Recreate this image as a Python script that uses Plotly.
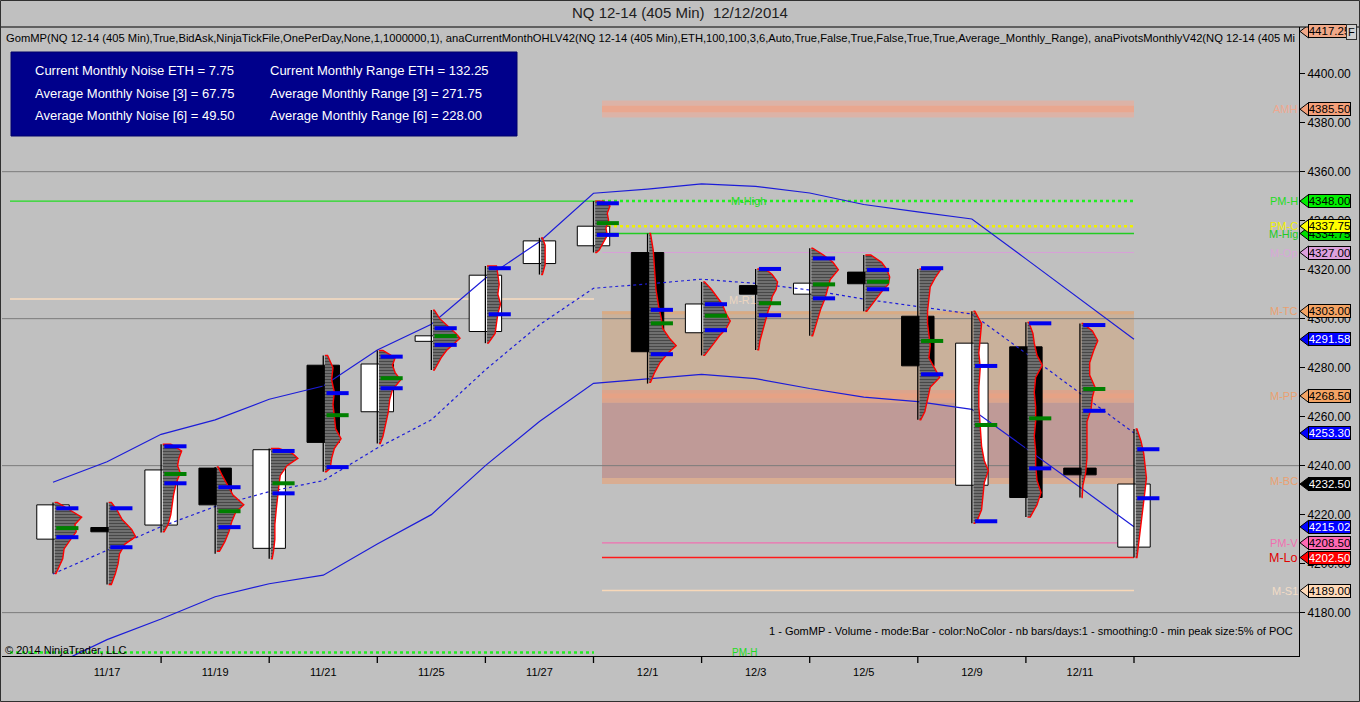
import plotly.graph_objects as go

# ---------------- data ----------------
dates = ["11/14", "11/17", "11/18", "11/19", "11/20", "11/21", "11/24", "11/25", "11/26", "11/27", "11/28",
         "12/1", "12/2", "12/3", "12/4", "12/5", "12/8", "12/9", "12/10", "12/11", "12/12"]
opens = [4210.0, 4214.75, 4215.75, 4239.0, 4206.25, 4281.0, 4262.0, 4290.75, 4294.75, 4322.5, 4329.75,
         4327.0, 4294.25, 4313.5, 4310.0, 4319.0, 4301.0, 4232.0, 4288.5, 4239.0, 4206.75]
highs = [4225.0, 4225.0, 4248.75, 4239.5, 4247.0, 4285.0, 4287.0, 4303.5, 4321.5, 4333.0, 4348.0,
         4334.75, 4315.0, 4320.25, 4328.75, 4326.0, 4320.25, 4303.0, 4298.5, 4298.0, 4255.0]
lows = [4196.0, 4191.5, 4212.75, 4204.0, 4202.0, 4237.5, 4249.0, 4279.0, 4290.0, 4318.0, 4327.0,
        4273.5, 4285.0, 4287.25, 4293.0, 4303.0, 4258.75, 4216.5, 4219.0, 4227.0, 4202.5]
closes = [4224.0, 4213.0, 4238.25, 4224.0, 4246.5, 4249.5, 4281.5, 4293.0, 4317.75, 4331.75, 4337.75,
          4286.5, 4306.0, 4310.0, 4314.5, 4314.25, 4280.75, 4290.0, 4227.0, 4236.25, 4232.5]

upper_band = [4233.2, 4241.6, 4252.8, 4258.7, 4267.1, 4272.5, 4287.2, 4297.7, 4316.5, 4331.4, 4351.2,
              4352.9, 4355.0, 4354.0, 4351.3, 4346.6, 4343.6, 4340.7, 4324.4, 4308.0, 4291.58]
mid_band = [4195.8, 4205.3, 4215.1, 4223.3, 4229.4, 4233.9, 4247.2, 4258.7, 4279.1, 4297.5, 4312.4,
            4314.2, 4316.1, 4314.4, 4311.7, 4308.0, 4304.9, 4301.9, 4285.9, 4269.6, 4253.30]
lower_band = [4158.4, 4169.0, 4177.4, 4186.5, 4191.8, 4195.3, 4208.0, 4220.0, 4240.0, 4258.0, 4273.6,
              4275.5, 4277.3, 4275.5, 4271.5, 4268.0, 4266.1, 4263.0, 4247.2, 4231.2, 4215.02]

# volume profile nodes per bar (price, relative volume)
profile_prices = [
    [4225, 4222, 4219, 4216, 4213, 4210, 4206, 4202, 4198, 4196],
    [4225, 4222, 4218, 4214, 4211, 4208, 4204, 4200, 4196, 4191.5],
    [4248.75, 4246, 4243, 4240, 4237, 4233, 4228, 4224, 4220, 4216, 4213],
    [4239.5, 4236, 4232, 4228, 4224, 4221, 4217, 4213, 4209, 4205],
    [4247, 4245, 4243, 4240, 4236, 4232, 4228, 4222, 4216, 4210, 4205, 4202],
    [4285, 4280, 4275, 4270, 4265, 4260, 4255, 4251, 4247, 4243, 4239, 4237.5],
    [4287, 4284, 4281, 4278, 4275, 4271, 4267, 4262, 4257, 4252, 4249],
    [4303.5, 4300, 4297, 4294, 4292, 4290, 4287, 4284, 4281, 4279],
    [4321.5, 4318, 4314, 4310, 4306, 4302, 4298, 4294, 4290],
    [4333, 4330, 4326, 4322, 4318],
    [4348, 4346, 4343, 4340, 4337, 4334, 4331, 4328, 4327],
    [4334.75, 4328, 4320, 4312, 4305, 4300, 4296, 4292, 4289, 4286, 4282, 4278, 4274],
    [4315, 4312, 4309, 4306, 4302, 4299, 4296, 4293, 4290, 4287, 4285],
    [4320.25, 4318, 4315, 4312, 4309, 4306, 4303, 4299, 4295, 4291, 4287.25],
    [4328.75, 4326, 4323, 4320, 4316, 4312, 4308, 4304, 4300, 4296, 4293],
    [4326, 4323, 4320, 4317, 4314, 4311, 4308, 4305, 4303],
    [4320.25, 4317, 4313, 4308, 4303, 4298, 4293, 4289, 4284, 4280, 4276, 4272, 4267, 4262, 4258.75],
    [4303, 4298, 4292, 4286, 4280, 4272, 4264, 4256, 4248, 4242, 4238, 4233, 4228, 4222, 4218, 4216.5],
    [4298.5, 4294, 4290, 4285, 4281, 4276, 4270, 4264, 4258, 4252, 4246, 4240, 4234, 4229, 4224, 4219],
    [4298, 4295, 4291, 4287, 4282, 4277, 4272, 4268, 4263, 4258, 4250, 4243, 4237, 4232, 4227],
    [4255, 4250, 4245, 4240, 4235, 4230, 4225, 4220, 4215, 4210, 4205, 4202.5],
]
profile_volumes = [
    [0.1, 0.55, 1.0, 0.75, 0.8, 0.6, 0.35, 0.3, 0.15, 0.05],
    [0.1, 0.3, 0.5, 0.85, 1.0, 0.6, 0.4, 0.35, 0.25, 0.1],
    [0.3, 0.7, 0.6, 0.55, 0.65, 0.5, 0.4, 0.35, 0.3, 0.2, 0.05],
    [0.05, 0.2, 0.4, 0.6, 1.0, 0.7, 0.55, 0.45, 0.3, 0.1],
    [0.3, 0.8, 1.0, 0.6, 0.35, 0.3, 0.25, 0.2, 0.15, 0.15, 0.1, 0.05],
    [0.1, 0.3, 0.25, 0.35, 0.3, 0.35, 0.4, 0.6, 0.35, 0.25, 0.2, 0.05],
    [0.15, 0.6, 0.5, 0.6, 0.8, 0.5, 0.4, 0.35, 0.25, 0.15, 0.05],
    [0.05, 0.25, 0.55, 0.85, 1.0, 0.8, 0.5, 0.3, 0.15, 0.05],
    [0.35, 0.4, 0.45, 0.4, 0.5, 0.4, 0.35, 0.3, 0.05],
    [0.05, 0.15, 0.15, 0.15, 0.05],
    [0.3, 0.55, 0.45, 0.5, 0.4, 0.45, 0.3, 0.15, 0.05],
    [0.05, 0.15, 0.2, 0.25, 0.35, 0.45, 0.5, 0.75, 1.0, 0.7, 0.4, 0.2, 0.05],
    [0.05, 0.3, 0.5, 0.7, 0.85, 1.0, 0.85, 0.6, 0.4, 0.2, 0.05],
    [0.3, 0.55, 0.75, 0.7, 0.55, 0.5, 0.4, 0.3, 0.2, 0.1, 0.05],
    [0.05, 0.45, 0.8, 1.0, 0.7, 0.6, 0.5, 0.35, 0.25, 0.15, 0.05],
    [0.2, 0.6, 0.8, 0.9, 0.85, 0.6, 0.4, 0.2, 0.05],
    [0.8, 0.6, 0.4, 0.35, 0.3, 0.3, 0.35, 0.4, 0.35, 0.55, 0.75, 0.4, 0.3, 0.2, 0.05],
    [0.05, 0.3, 0.25, 0.2, 0.25, 0.2, 0.2, 0.25, 0.3, 0.4, 0.55, 0.4, 0.35, 0.3, 0.15, 0.05],
    [0.05, 0.2, 0.25, 0.35, 0.55, 0.3, 0.25, 0.3, 0.3, 0.25, 0.3, 0.3, 0.35, 0.5, 0.35, 0.1],
    [0.05, 0.4, 0.6, 0.45, 0.3, 0.3, 0.5, 0.4, 0.35, 0.2, 0.2, 0.2, 0.15, 0.05, 0.02],
    [0.05, 0.2, 0.3, 0.35, 0.4, 0.35, 0.3, 0.25, 0.2, 0.15, 0.1, 0.05],
]
va_high = [4222.6, 4222.6, 4247.9, 4231.2, 4246.0, 4269.6, 4284.5, 4296.1, 4320.6, None, 4347.1,
           4303.6, 4305.9, 4320.3, 4324.6, 4319.9, 4320.6, 4280.7, 4298.1, 4297.4, 4246.7]
va_low = [4210.8, 4206.7, 4232.8, 4214.9, 4228.7, 4239.4, 4271.6, 4289.3, 4301.8, None, 4334.2,
          4285.5, 4295.3, 4301.4, 4308.3, 4312.0, 4277.3, 4217.3, 4238.9, 4262.4, 4226.7]
poc = [4214.5, None, 4236.6, 4221.4, 4232.8, 4260.6, 4275.7, 4292.9, None, None, 4339.0,
       4298.1, 4301.2, 4306.3, 4314.0, 4315.1, 4290.9, 4256.6, 4259.3, 4271.3, None]

# monthly levels (December)
level_names = ["R1", "AMH", "PM-H", "M-High", "PM-C", "M-Op", "M-TC", "M-PP", "M-BC", "PM-V", "M-Lo", "M-S1"]
level_prices = [4417.25, 4385.50, 4348.00, 4334.75, 4337.75, 4327.00, 4303.00, 4268.50, 4233.75, 4208.50, 4202.50, 4189.00]
# November levels drawn on the left part
nov_high = 4348.0
nov_level = 4308.0
oct_high = 4163.75

current_price = 4232.50
ytick_vals = [4180, 4200, 4220, 4240, 4260, 4280, 4300, 4320, 4340, 4360, 4380, 4400]
grid_vals = [4180, 4240, 4300, 4360]

info_lines = [
    ("Current Monthly Noise ETH = 7.75", "Current Monthly Range ETH = 132.25"),
    ("Average Monthly Noise [3] = 67.75", "Average Monthly Range [3] = 271.75"),
    ("Average Monthly Noise [6] = 49.50", "Average Monthly Range [6] = 228.00"),
]

# ---------------- geometry helpers ----------------
W, H = 1360, 702
L_PX, R_PX, T_PX, B_PX = 2, 1299, 27, 656
BAR0_PX, BAR_SP = 53.0, 54.05
Y_TOP, Y_BOT = 4419.06, 4162.3
FONT = "Arial, Liberation Sans, sans-serif"


def px2x(px):
    return (px - BAR0_PX) / BAR_SP


def pxpaper(px):
    return (px - L_PX) / (R_PX - L_PX)


def pypaper(py):
    return (B_PX - py) / (B_PX - T_PX)


n = len(dates)
idx = list(range(n))
fig = go.Figure()

# ---------------- zones & level lines (shapes) ----------------
shapes = []
z0, z1 = px2x(602), 20.0


def rect(y0, y1, color, x0=z0, x1=z1):
    shapes.append(dict(type="rect", xref="x", yref="y", x0=x0, x1=x1, y0=y0, y1=y1,
                       fillcolor=color, line=dict(width=0), layer="below"))


def hline(y, color, width=1, dash="solid", x0=z0, x1=z1, layer="below"):
    shapes.append(dict(type="line", xref="x", yref="y", x0=x0, x1=x1, y0=y, y1=y,
                       line=dict(color=color, width=width, dash=dash), layer=layer))


lv = dict(zip(level_names, level_prices))
# AMH band
rect(lv["AMH"] - 3.4, lv["AMH"] + 3.6, "#dcb3a7")
rect(lv["AMH"] - 1.2, lv["AMH"] + 1.4, "#e9a78f")
# central pivot range
rect(lv["M-PP"] + 2.2, lv["M-TC"], "#c9b19b")
rect(lv["M-BC"] + 1.0, lv["M-PP"] - 2.6, "#bf9a97")
rect(lv["M-PP"] - 2.8, lv["M-PP"] + 2.4, "#dca48c")
rect(lv["M-PP"] - 1.0, lv["M-PP"] + 1.0, "#e6a285")
rect(lv["M-BC"] - 1.2, lv["M-BC"] + 1.2, "#d9ad92")
hline(lv["M-TC"] - 0.6, "#d9ab84", 3)

# gridlines
for g in grid_vals:
    hline(g, "#7c7c7c", 1, x0=px2x(L_PX), x1=px2x(R_PX))

# November lines (left side)
hline(nov_high, "#22dd22", 1.2, x0=px2x(10), x1=px2x(600))
hline(nov_level, "#f8dcc0", 1.5, x0=px2x(10), x1=px2x(594))
hline(oct_high, "#22ee22", 2.5, "dot", x0=px2x(10), x1=px2x(594))

# December lines
hline(lv["PM-H"], "#22ee22", 2.5, "dot")
hline(lv["PM-C"], "#f0f000", 2.5, "dot")
hline(lv["M-High"], "#22cc22", 1.5)
hline(lv["M-Op"], "#d8a0d8", 1)
hline(lv["PM-V"], "#f070b0", 1.2)
hline(lv["M-Lo"], "#ff1a1a", 1.6, layer="between")
hline(lv["M-S1"], "#f8d8b8", 1.5)

# x tick marks
for k in range(2, n + 1, 2):
    shapes.append(dict(type="line", xref="x", yref="paper", x0=k, x1=k, y0=0, y1=-7 / 629,
                       line=dict(color="black", width=1.3), layer="above"))

# ---------------- traces ----------------
# bands
fig.add_trace(go.Scatter(x=idx, y=upper_band, mode="lines", line=dict(color="#1c1cd8", width=1.2),
                         hoverinfo="skip"))
fig.add_trace(go.Scatter(x=idx, y=mid_band, mode="lines", line=dict(color="#1c1cd8", width=1.2, dash="3px,3px"),
                         hoverinfo="skip"))
fig.add_trace(go.Scatter(x=idx, y=lower_band, mode="lines", line=dict(color="#1c1cd8", width=1.2),
                         hoverinfo="skip"))

# candle bodies
body_base = [min(o, c) for o, c in zip(opens, closes)]
body_h = [abs(c - o) for o, c in zip(opens, closes)]
body_col = ["white" if c >= o else "black" for o, c in zip(opens, closes)]
fig.add_trace(go.Bar(x=idx, y=body_h, base=body_base, width=0.6,
                     marker=dict(color=body_col, line=dict(color="black", width=1)), hoverinfo="skip"))

# volume profiles
PW = 0.5
OFF = 0.03
for i in idx:
    pr = profile_prices[i]
    vo = profile_volumes[i]
    xs = [i + OFF] + [i + OFF + v * PW for v in vo] + [i + OFF]
    ys = [pr[0]] + pr + [pr[-1]]
    fig.add_trace(go.Scatter(x=xs, y=ys, mode="lines", fill="toself",
                             fillcolor="#505050",
                             fillpattern=dict(shape="-", fgcolor="#121212", bgcolor="#7c7c7c",
                                              size=3, solidity=0.5),
                             line=dict(color="#ff0000", width=1.4), hoverinfo="skip"))

# wicks
wx, wy = [], []
for i in idx:
    wx += [i, i, None]
    wy += [lows[i], highs[i], None]
fig.add_trace(go.Scatter(x=wx, y=wy, mode="lines", line=dict(color="black", width=1.3), hoverinfo="skip"))


# markers
def marker_trace(vals, color):
    mx, my = [], []
    for i, v in enumerate(vals):
        if v is None:
            continue
        mx += [i + 0.06, i + 0.47, None]
        my += [v, v, None]
    return go.Scatter(x=mx, y=my, mode="lines", line=dict(color=color, width=4), hoverinfo="skip")


fig.add_trace(marker_trace(va_high, "#0000ee"))
fig.add_trace(marker_trace(va_low, "#0000ee"))
fig.add_trace(marker_trace(poc, "#008000"))

# ---------------- annotations ----------------
ann = []
ann.append(dict(xref="paper", yref="paper", x=pxpaper(680), y=pypaper(13), showarrow=False,
                text="NQ 12-14 (405 Min)\u00a0\u00a012/12/2014", font=dict(family=FONT, size=15, color="#202020"),
                xanchor="center", yanchor="middle"))
ann.append(dict(xref="paper", yref="paper", x=pxpaper(4), y=pypaper(38), showarrow=False,
                text="GomMP(NQ 12-14 (405 Min),True,BidAsk,NinjaTickFile,OnePerDay,None,1,1000000,1), "
                     "anaCurrentMonthOHLV42(NQ 12-14 (405 Min),ETH,100,100,3,6,Auto,True,False,True,False,True,True,"
                     "Average_Monthly_Range), anaPivotsMonthlyV42(NQ 12-14 (405 Mi",
                font=dict(family=FONT, size=11.2, color="black"), xanchor="left", yanchor="middle"))
# info box
shapes.append(dict(type="rect", xref="paper", yref="paper", x0=pxpaper(11), x1=pxpaper(517),
                   y0=pypaper(136), y1=pypaper(52), fillcolor="#00008b", line=dict(color="#00006a", width=1),
                   layer="above"))
for r, (a, b) in enumerate(info_lines):
    yy = pypaper(70 + r * 23)
    ann.append(dict(xref="paper", yref="paper", x=pxpaper(33), y=yy, text=a, showarrow=False,
                    font=dict(family=FONT, size=13, color="white"), xanchor="left", yanchor="middle"))
    ann.append(dict(xref="paper", yref="paper", x=pxpaper(268), y=yy, text=b, showarrow=False,
                    font=dict(family=FONT, size=13, color="white"), xanchor="left", yanchor="middle"))

ann.append(dict(xref="paper", yref="paper", x=pxpaper(3), y=pypaper(650), text="© 2014 NinjaTrader, LLC",
                showarrow=False, font=dict(family=FONT, size=11, color="black"), xanchor="left", yanchor="middle"))
ann.append(dict(xref="paper", yref="paper", x=pxpaper(1295), y=pypaper(631),
                text="1 - GomMP - Volume - mode:Bar - color:NoColor - nb bars/days:1 - smoothing:0 - min peak size:5% of POC",
                showarrow=False, font=dict(family=FONT, size=11, color="black"), xanchor="right", yanchor="middle"))

# mid-chart texts
ann.append(dict(xref="x", yref="y", x=px2x(748), y=lv["PM-H"], text="M-High", showarrow=False,
                font=dict(family=FONT, size=11, color="#22dd22"), xanchor="center", yanchor="middle"))
ann.append(dict(xref="x", yref="y", x=px2x(742), y=4307.6, text="M-R1", showarrow=False,
                font=dict(family=FONT, size=11, color="#ecd6c0"), xanchor="center", yanchor="middle"))
ann.append(dict(xref="x", yref="y", x=px2x(745), y=oct_high, text="PM-H", showarrow=False,
                font=dict(family=FONT, size=10, color="#22dd22"), xanchor="center", yanchor="middle"))

# level labels left of the tags
label_styles = {
    "AMH": ("AMH", "#eea890", 11),
    "PM-H": ("PM-H", "#22dd22", 11),
    "PM-C": ("PM-C", "#f0f000", 11),
    "M-High": ("M-Hig", "#22cc22", 11),
    "M-Op": ("M-Op", "#d8a8d8", 11),
    "M-TC": ("M-TC", "#eaa070", 11),
    "M-PP": ("M-PP", "#eaa070", 11),
    "M-BC": ("M-BC", "#eaa070", 11),
    "PM-V": ("PM-V", "#f070b0", 11),
    "M-Lo": ("M-Lo", "#e00000", 12.5),
    "M-S1": ("M-S1", "#f2dcc6", 11),
}
for name, price in zip(level_names, level_prices):
    if name not in label_styles:
        continue
    t, c, s = label_styles[name]
    ann.append(dict(xref="paper", yref="y", x=pxpaper(1300), y=price, text=t, showarrow=False,
                    font=dict(family=FONT, size=s, color=c), xanchor="right", yanchor="middle"))

# price tags on the axis
tag_styles = {
    "R1": ("#f0a888", "black"),
    "AMH": ("#f4a07a", "black"),
    "PM-H": ("#00f000", "black"),
    "M-High": ("#00e000", "black"),
    "PM-C": ("#ffff00", "black"),
    "M-Op": ("#dda0dd", "black"),
    "M-TC": ("#f4a464", "black"),
    "M-PP": ("#f4a464", "black"),
    "PM-V": ("#ff69b4", "black"),
    "M-Lo": ("#ff0000", "white"),
    "M-S1": ("#ffdab9", "black"),
}
tags = [(p, tag_styles[nm][0], tag_styles[nm][1]) for nm, p in zip(level_names, level_prices) if nm in tag_styles]
tags += [(upper_band[-1], "#0000ff", "white"), (mid_band[-1], "#0000ff", "white"),
         (lower_band[-1], "#0000ff", "white"), (current_price, "black", "white")]
half = 6.5 / 2.45
for p, fc, tc in tags:
    shapes.append(dict(type="path", xref="paper", yref="y",
                       path=f"M {pxpaper(1300)},{p} L {pxpaper(1308.5)},{p + half} L {pxpaper(1308.5)},{p - half} Z",
                       fillcolor=fc, line=dict(color="black", width=1), layer="above"))
    ann.append(dict(xref="paper", yref="y", x=pxpaper(1308), y=p, text=f"{p:.2f}", showarrow=False,
                    font=dict(family=FONT, size=11.5, color=tc), xanchor="left", yanchor="middle",
                    bgcolor=fc, bordercolor="black", borderwidth=1, borderpad=0, width=41, height=12,
                    align="center"))

# "F" box
ann.append(dict(xref="paper", yref="paper", x=pxpaper(1351), y=pypaper(32), text="F", showarrow=False,
                font=dict(family=FONT, size=11, color="black"), bordercolor="#303030", borderwidth=1,
                borderpad=1, bgcolor="#d0d0d0", xanchor="center", yanchor="middle"))

# frame lines
shapes.append(dict(type="line", xref="paper", yref="paper", x0=pxpaper(0), x1=pxpaper(1360),
                   y0=pypaper(T_PX), y1=pypaper(T_PX), line=dict(color="black", width=1), layer="above"))
shapes.append(dict(type="rect", xref="paper", yref="paper", x0=pxpaper(0.5), x1=pxpaper(1359.5),
                   y0=pypaper(701.5), y1=pypaper(0.5), line=dict(color="#303030", width=1), layer="above"))

fig.update_layout(
    width=W, height=H,
    margin=dict(l=L_PX, r=W - R_PX, t=T_PX, b=H - B_PX, pad=0),
    paper_bgcolor="#c0c0c0", plot_bgcolor="#c0c0c0",
    showlegend=False, hovermode=False, barmode="overlay",
    shapes=shapes, annotations=ann,
    xaxis=dict(range=[px2x(L_PX), px2x(R_PX)], tickvals=list(range(1, n, 2)),
               ticktext=[dates[k] for k in range(1, n, 2)], ticks="", showgrid=False, zeroline=False,
               showline=True, linecolor="black", linewidth=1, tickfont=dict(family=FONT, size=11, color="black"),
               ticklabelstandoff=6, fixedrange=True),
    yaxis=dict(range=[Y_BOT, Y_TOP], side="right", tickvals=ytick_vals,
               ticktext=[f"{v:.2f}" for v in ytick_vals], ticks="outside", ticklen=5, tickcolor="black",
               showgrid=False, zeroline=False, showline=True, linecolor="black", linewidth=1,
               tickfont=dict(family=FONT, size=12, color="black"), fixedrange=True),
    font=dict(family=FONT),
)

fig.write_html("out.html", config={"displayModeBar": False},
               post_script="document.body.style.margin='0px';document.body.style.overflow='hidden';")
